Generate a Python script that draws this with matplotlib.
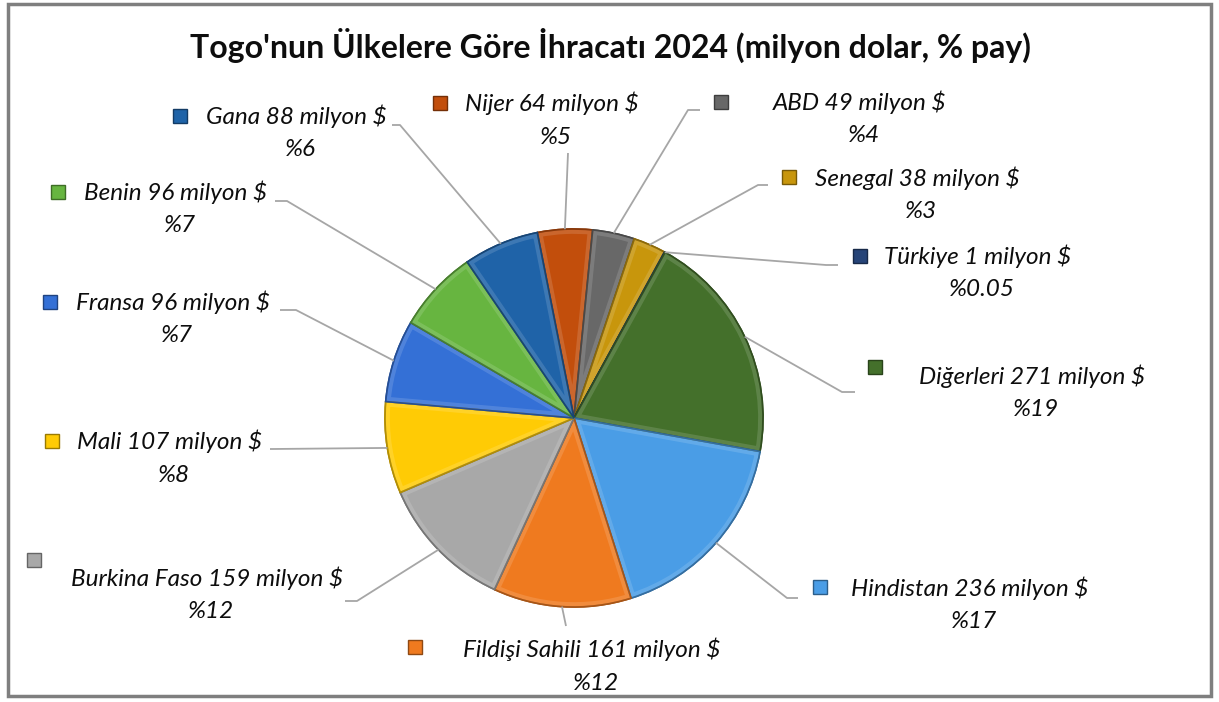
import numpy as np
import matplotlib.pyplot as plt
import matplotlib.colors as mc
from matplotlib.patches import Wedge

# clockwise from the top
countries = ['Nijer', 'ABD', 'Senegal', 'Türkiye', 'Diğerleri', 'Hindistan',
             'Fildişi Sahili', 'Burkina Faso', 'Mali', 'Fransa', 'Benin', 'Gana']
values = [64, 49, 38, 0.7, 271, 236, 161, 159, 107, 96, 96, 88]
value_labels = ['64', '49', '38', '1', '271', '236', '161', '159', '107', '96', '96', '88']
pct_labels = ['5', '4', '3', '0.05', '19', '17', '12', '12', '8', '7', '7', '6']
colors = ['#C24E0C', '#686868', '#C8960C', '#264478', '#44702B', '#4A9DE6',
          '#EF7A1F', '#A8A8A8', '#FFCB05', '#3470D6', '#67B540', '#1F63A8']

W, H = 1219, 702
fig = plt.figure(figsize=(W / 100, H / 100), dpi=100)
ax = fig.add_axes([0, 0, 1, 1])

cx, cy, r = 574, H - 418, 189


def shade(c, f):
    rgb = np.array(mc.to_rgb(c))
    if f < 1:
        return tuple(rgb * f)
    return tuple(rgb + (1 - rgb) * (f - 1))


wedges, _ = ax.pie(values, colors=colors, startangle=101.2, counterclock=False,
                   center=(cx, cy), radius=r, frame=True,
                   wedgeprops=dict(linewidth=1.2))
for w, c in zip(wedges, colors):
    w.set_edgecolor(shade(c, 0.7))
    # rough bevel: light rim inside each slice, clipped to the slice
    rim = Wedge((cx, cy), r, w.theta1, w.theta2, facecolor='none',
                edgecolor=shade(c, 1.25), lw=7, alpha=0.55)
    ax.add_patch(rim)
    rim.set_clip_path(w)
    edge = Wedge((cx, cy), r, w.theta1, w.theta2, facecolor='none',
                 edgecolor=shade(c, 0.7), lw=1.2)
    ax.add_patch(edge)

ax.set_xlim(0, W)
ax.set_ylim(0, H)
ax.set_aspect('equal')
ax.axis('off')

# label layout: text centre (x, y from top), marker (x, y), leader elbow, leader end
layout = {
    'Nijer':          ((552, 103), (440, 103), (568, 153), (568, 153)),
    'ABD':            ((860, 102), (721, 102), (688, 110), (700, 110)),
    'Senegal':        ((917, 178), (789, 177), (758, 185), (768, 185)),
    'Türkiye':        ((978, 256), (860, 256), (826, 265), (838, 265)),
    'Diğerleri':      ((1032, 376), (875, 367), (842, 392), (855, 392)),
    'Hindistan':      ((970, 588), (820, 587), (787, 598), (798, 598)),
    'Fildişi Sahili': ((592, 649), (415, 647), (566, 626), (566, 626)),
    'Burkina Faso':   ((207, 578), (34, 560), (357, 601), (345, 601)),
    'Mali':           ((170, 441), (52, 441), (273, 449), (270, 449)),
    'Fransa':         ((173, 302), (50, 302), (296, 310), (280, 310)),
    'Benin':          ((176, 192), (58, 192), (287, 201), (275, 201)),
    'Gana':           ((296, 116), (180, 116), (400, 125), (392, 125)),
}

font = ['Lato', 'DejaVu Sans']
for w, name, v, p, c in zip(wedges, countries, value_labels, pct_labels, colors):
    (tx, ty), (mx, my), (ex, ey), (fx, fy) = layout[name]
    ang = np.deg2rad((w.theta1 + w.theta2) / 2)
    px, py = cx + r * np.cos(ang), cy + r * np.sin(ang)
    ax.plot([px, ex, fx], [py, H - ey, H - fy], color='#A6A6A6', lw=1.3,
            solid_capstyle='butt', zorder=1)
    ax.text(tx, H - ty, f'{name} {v} milyon $', ha='center', va='center',
            fontsize=17.5, style='italic', family=font, color='#0D0D0D')
    ax.text(tx + 4, H - ty - 34, f'%{p}', ha='center', va='center',
            fontsize=17.5, style='italic', family=font, color='#0D0D0D')
    ax.plot(mx, H - my, marker='s', markersize=10, markerfacecolor=c,
            markeredgecolor=shade(c, 0.6), markeredgewidth=1)

ax.text(610, H - 45, "Togo'nun Ülkelere Göre İhracatı 2024 (milyon dolar, % pay)",
        ha='center', va='center', fontsize=23, fontweight='bold', family=font,
        color='#0D0D0D')

# outer frame
ax.add_patch(plt.Rectangle((8, 6), W - 16, H - 10, fill=False,
                           edgecolor='#7F7F7F', lw=2.5))

fig.savefig('out.png', dpi=100)
